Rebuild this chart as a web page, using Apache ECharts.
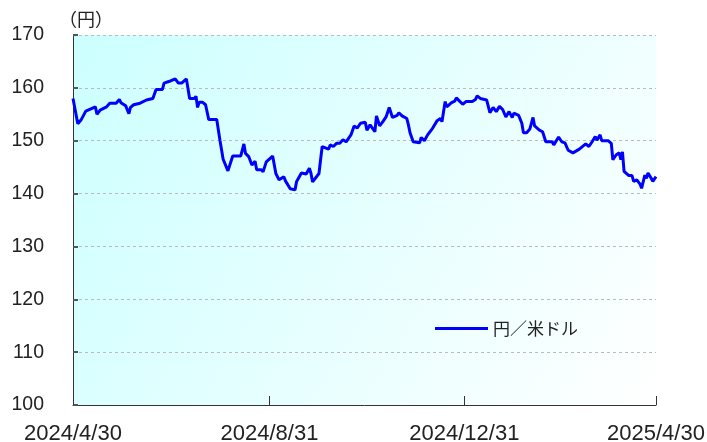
<!DOCTYPE html>
<html><head><meta charset="utf-8">
<script src="https://cdn.jsdelivr.net/npm/echarts@6/dist/echarts.min.js"></script>
<style>html,body{margin:0;padding:0;background:#fff}#c{width:707px;height:442px}</style>
</head><body><div id="c"></div>
<script>
// days since 2024/4/30
const days = [0,3,5,8,14,15,17,21,23,27,29,30,33,35,36,38,42,43,46,50,52,56,57,60,64,66,68,71,73,76,77,78,79,81,83,85,90,92,94,97,98,100,102,103,105,107,108,110,112,114,115,118,119,121,125,127,129,132,133,136,139,140,141,143,146,148,149,150,154,155,156,160,161,163,165,167,169,171,174,176,178,180,183,184,186,189,190,192,194,196,198,200,203,204,206,209,210,211,212,213,217,218,220,222,225,228,230,231,233,234,237,239,240,242,244,246,250,252,253,255,259,260,261,263,265,267,269,271,273,275,276,279,281,282,284,286,288,289,292,294,296,300,301,304,306,308,310,313,314,317,318,321,323,325,327,328,330,331,335,337,338,340,342,343,344,345,348,350,351,353,355,356,358,359,360,362,363,365];
const usdjpy = [158.0,153.2,153.9,155.6,156.4,155.0,155.8,156.4,157.1,157.1,157.8,157.2,156.6,155.1,156.3,156.8,157.1,156.8,157.7,158.0,159.7,159.7,160.9,161.2,161.7,160.9,160.9,161.7,158.0,158.0,158.4,156.3,157.3,157.3,156.8,154.0,154.0,150.1,146.5,144.3,144.3,147.1,147.1,147.3,147.1,149.4,147.6,147.0,145.4,146.1,144.5,144.5,144.1,146.0,147.1,143.8,142.6,143.2,142.4,140.9,140.7,142.3,142.6,143.9,143.7,144.8,143.8,142.2,143.8,146.4,148.9,148.4,149.2,148.9,149.5,149.5,150.2,149.8,151.1,152.8,152.4,153.3,153.5,152.0,153.0,151.7,154.7,152.8,153.6,154.5,156.3,154.4,154.8,155.3,154.7,154.2,153.0,151.5,151.7,149.8,149.6,150.6,150.0,151.1,152.3,153.8,154.2,153.6,157.4,156.4,157.2,157.5,158.1,157.5,156.9,157.4,157.4,157.8,158.5,158.0,157.7,158.0,155.3,156.3,155.5,156.5,155.9,154.5,155.5,154.4,155.2,154.8,153.3,151.5,151.5,152.2,154.4,152.8,152.0,151.7,149.8,149.8,149.2,150.7,149.8,149.6,148.2,147.7,147.5,148.4,148.4,149.4,148.9,149.8,150.8,150.1,151.1,150.0,150.0,149.5,146.4,147.3,147.7,146.4,147.9,144.2,143.4,143.4,142.3,142.6,141.8,141.0,143.5,142.9,143.9,142.9,142.3,143.2];
const tickDays = [0,123,245,365];
const tickLabels = ['2024/4/30','2024/8/31','2024/12/31','2025/4/30'];
const yTicks = [100,110,120,130,140,150,160,170];
const seriesName = '円／米ドル';
const unitLabel = '（円）';

const font = '"Liberation Sans", Arial, sans-serif';
const cjk = '"Noto Sans CJK JP", sans-serif';
const chart = echarts.init(document.getElementById('c'));
chart.setOption({
  animation:false,
  title:{text:unitLabel,left:54,top:5,textStyle:{fontSize:18,fontWeight:'normal',color:'#222',fontFamily:cjk}},
  legend:{data:[seriesName],left:430,top:315,icon:'rect',itemWidth:53,itemHeight:3,itemGap:5,
    textStyle:{fontSize:17,color:'#222',fontFamily:cjk}},
  grid:{left:73,right:51,top:35,bottom:37,show:true,borderWidth:0,containLabel:false,outerBoundsMode:'none',
    backgroundColor:new echarts.graphic.LinearGradient(0,0,1,1,[{offset:0,color:'#ccffff'},{offset:1,color:'#ffffff'}])},
  xAxis:{type:'value',min:tickDays[0],max:tickDays[tickDays.length-1],
    axisLine:{show:true,lineStyle:{color:'#333',width:1}},
    axisTick:{show:true,inside:true,length:9,customValues:tickDays,lineStyle:{color:'#333'}},
    axisLabel:{customValues:tickDays,margin:18,fontSize:22,color:'#222',fontFamily:font,
      formatter:v=>tickLabels[tickDays.indexOf(v)]},
    splitLine:{show:false}},
  yAxis:{type:'value',min:yTicks[0],max:yTicks[yTicks.length-1],interval:10,
    axisLine:{show:true,lineStyle:{color:'#333',width:1}},
    axisTick:{show:true,inside:true,length:5,lineStyle:{color:'#555',width:2}},
    axisLabel:{margin:29,fontSize:19.5,color:'#222',fontFamily:font},
    splitLine:{show:true,lineStyle:{color:'#bbbbbb',type:[3,3],width:1}}},
  series:[{name:seriesName,type:'line',showSymbol:false,symbol:'none',
    data:days.map((d,i)=>[d,usdjpy[i]]),lineStyle:{color:'#0000ff',width:3},itemStyle:{color:'#0000ff'}}]
});
</script></body></html>
